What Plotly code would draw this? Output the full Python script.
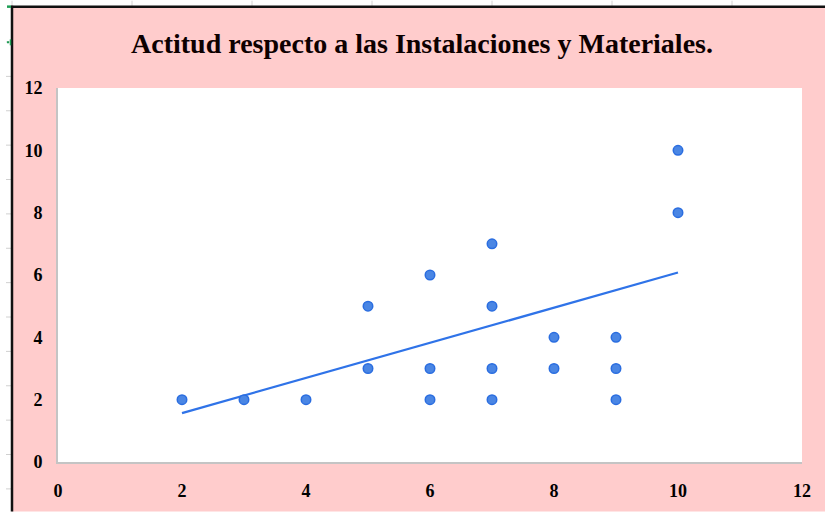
import plotly.graph_objects as go

# ---- data ----
x_values = [2, 3, 4, 5, 5, 6, 6, 6, 7, 7, 7, 7, 8, 8, 9, 9, 9, 10, 10]
y_values = [2, 2, 2, 5, 3, 6, 3, 2, 7, 5, 3, 2, 4, 3, 4, 3, 2, 10, 8]
trend_x = [2, 10]
trend_y = [1.57, 6.08]
x_ticks = [0, 2, 4, 6, 8, 10, 12]
y_ticks = [0, 2, 4, 6, 8, 10, 12]
title_text = "Actitud respecto a las Instalaciones y Materiales."

# ---- layout geometry ----
W, H = 825, 513
L, R, T, B = 58, 23, 88, 48
PW, PH = W - L - R, H - T - B


def fx(p):
    return (p - L) / PW


def fy(p):
    return (H - B - p) / PH


PINK = "#ffcccc"
SERIF = "Liberation Serif"

fig = go.Figure()

fig.add_trace(go.Scatter(
    x=trend_x, y=trend_y, mode="lines",
    line=dict(color="#2f73e8", width=2.3),
    hoverinfo="skip", showlegend=False,
))
fig.add_trace(go.Scatter(
    x=x_values, y=y_values, mode="markers",
    marker=dict(size=9.5, color="#4a86e4", line=dict(color="#2a6de0", width=1.5)),
    showlegend=False,
))

shapes = []
# pink chart area
shapes.append(dict(type="rect", xref="paper", yref="paper", layer="below",
                   x0=fx(12), x1=fx(W + 2), y0=fy(H + 2), y1=fy(6),
                   fillcolor=PINK, line=dict(width=0)))
# white plot area
shapes.append(dict(type="rect", xref="paper", yref="paper", layer="below",
                   x0=0, x1=1, y0=0, y1=1,
                   fillcolor="white", line=dict(width=0)))
# spreadsheet gridlines above chart
for gx in [12, 132, 252, 372, 492, 612, 732]:
    shapes.append(dict(type="line", xref="paper", yref="paper", layer="below",
                       x0=fx(gx), x1=fx(gx), y0=fy(0), y1=fy(6),
                       line=dict(color="#d4d4d4", width=1)))
# spreadsheet row ticks at left
k = 1
while 7 + 34.65 * k < H:
    yy = 7 + 34.65 * k
    shapes.append(dict(type="line", xref="paper", yref="paper", layer="below",
                       x0=fx(6), x1=fx(11), y0=fy(yy), y1=fy(yy),
                       line=dict(color="#d0d0d0", width=1)))
    k += 1
# black chart borders
shapes.append(dict(type="line", xref="paper", yref="paper",
                   x0=fx(11), x1=fx(W + 2), y0=fy(6), y1=fy(6),
                   line=dict(color="#111111", width=2.5)))
shapes.append(dict(type="line", xref="paper", yref="paper",
                   x0=fx(12), x1=fx(12), y0=fy(5), y1=fy(H + 2),
                   line=dict(color="#111111", width=2.5)))
# green selection marks
shapes.append(dict(type="line", xref="paper", yref="paper",
                   x0=fx(7), x1=fx(11), y0=fy(6), y1=fy(6),
                   line=dict(color="#1e9e55", width=2.5)))
shapes.append(dict(type="rect", xref="paper", yref="paper",
                   x0=fx(7), x1=fx(9), y0=fy(43), y1=fy(41),
                   fillcolor="#1e9e55", line=dict(width=0)))
shapes.append(dict(type="line", xref="paper", yref="paper",
                   x0=fx(10.5), x1=fx(10.5), y0=fy(39), y1=fy(45),
                   line=dict(color="#1e9e55", width=1.5)))

axis_font = dict(family=SERIF, size=18, color="black", weight="bold")

fig.update_layout(
    width=W, height=H,
    margin=dict(l=L, r=R, t=T, b=B, pad=0),
    paper_bgcolor="white",
    plot_bgcolor="white",
    shapes=shapes,
    annotations=[dict(
        text=title_text, xref="paper", yref="paper",
        x=fx(422), y=fy(43), xanchor="center", yanchor="middle",
        showarrow=False,
        font=dict(family=SERIF, size=28, color="#0d0000", weight="bold"),
    )],
    xaxis=dict(
        range=[0, 12], tickvals=x_ticks, showgrid=False, zeroline=False,
        showline=True, linecolor="#c4c4c4", linewidth=2, ticks="",
        tickfont=axis_font, ticklabelstandoff=11,
    ),
    yaxis=dict(
        range=[0, 12], tickvals=y_ticks, showgrid=False, zeroline=False,
        showline=True, linecolor="#c4c4c4", linewidth=2, ticks="",
        tickfont=axis_font, ticklabelstandoff=10,
    ),
)

fig.write_html("out.html", config={"displayModeBar": False},
               post_script="document.body.style.margin='0';")
